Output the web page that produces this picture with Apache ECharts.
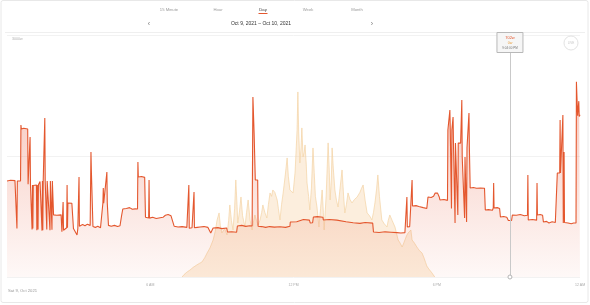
<!DOCTYPE html>
<html><head><meta charset="utf-8">
<script src="https://cdn.jsdelivr.net/npm/echarts@6/dist/echarts.min.js"></script>
<style>html,body{margin:0;padding:0;background:#fff}#c{width:590px;height:305px}</style>
</head><body><div id="c"></div>
<script>
// ---- data (minute of day, watts) ----
const tabs = ['15 Minute','Hour','Day','Week','Month'];
const dateRange = 'Oct 9, 2021 – Oct 10, 2021';
const yTopLabel = '3000w';
const dayLabel = 'Sat 9, Oct 2021';
const xTickValues = [360, 720, 1080, 1440];
const xTickLabels = ['6 AM', '12 PM', '6 PM', '12 AM'];
const cursorMinute = 1264;
const cursorTimeText = '9:04:00 PM';

const consumption = [[0,1190],[4,1175],[9,1200],[14,1185],[20,1195],[24,1190],[25,600],[26,1190],[30,1180],[34,1190],[35,1885],[36,1835],[42,1845],[47,1830],[52,1835],[53,1150],[57,1145],[58,1736],[59,1140],[62,1140],[63,590],[64,1140],[65,600],[66,1135],[70,1145],[74,1140],[75,580],[76,1140],[78,590],[79,1145],[83,1185],[87,1195],[88,575],[89,1190],[90,580],[91,1195],[94,1190],[95,1972],[96,1190],[100,590],[101,1190],[104,1185],[108,580],[109,1190],[113,585],[114,1190],[116,1185],[117,770],[125,765],[130,775],[136,770],[138,560],[140,570],[141,930],[142,580],[146,600],[150,610],[151,1141],[152,610],[153,918],[158,925],[163,915],[166,918],[167,600],[172,590],[176,521],[178,600],[180,610],[181,1240],[182,630],[190,650],[196,635],[202,655],[209,640],[210,640],[211,1550],[212,1320],[215,1310],[216,625],[222,615],[228,630],[235,610],[240,620],[241,918],[242,1104],[243,915],[248,925],[251,1302],[252,918],[254,915],[255,640],[262,630],[270,640],[278,625],[284,635],[288,760],[291,843],[300,850],[308,860],[315,840],[322,845],[328,843],[329,1426],[330,1240],[338,1245],[346,1235],[347,1240],[348,740],[352,732],[356,732],[357,1203],[358,730],[366,740],[375,725],[385,735],[392,740],[398,765],[405,775],[412,760],[417,745],[420,630],[430,620],[440,625],[452,615],[456,610],[457,1141],[458,605],[465,610],[469,605],[470,1054],[471,610],[478,615],[485,620],[495,625],[505,615],[510,615],[512,546],[517,550],[518,608],[530,612],[540,600],[552,608],[554,558],[565,560],[577,555],[579,632],[590,640],[600,628],[610,635],[616,632],[617,630],[618,2232],[620,2230],[621,1786],[623,1786],[624,1203],[630,1203],[631,630],[640,625],[650,615],[660,625],[672,618],[686,622],[700,615],[711,630],[712,682],[728,685],[730,707],[745,712],[760,705],[762,670],[768,672],[770,744],[780,748],[794,740],[795,707],[810,712],[829,705],[830,682],[852,685],[855,670],[870,672],[887,665],[900,675],[919,668],[921,558],[935,552],[950,560],[965,555],[980,550],[990,545],[1000,550],[1004,548],[1005,992],[1006,620],[1012,625],[1016,620],[1017,622],[1018,1203],[1019,880],[1028,885],[1035,875],[1037,856],[1046,860],[1055,850],[1058,992],[1066,985],[1072,1000],[1076,1042],[1082,1040],[1086,995],[1088,955],[1098,960],[1107,950],[1108,1823],[1111,1820],[1113,2071],[1114,1823],[1116,1823],[1117,850],[1118,1823],[1120,1823],[1121,1984],[1122,1662],[1125,1662],[1126,670],[1127,1662],[1132,1662],[1133,769],[1134,1662],[1140,1660],[1142,1662],[1143,2195],[1144,1488],[1149,1488],[1150,732],[1151,1488],[1154,1488],[1155,682],[1156,1600],[1160,1600],[1161,2034],[1162,1600],[1163,1600],[1164,1104],[1172,1110],[1180,1100],[1190,1104],[1200,1100],[1202,831],[1210,835],[1220,828],[1222,856],[1223,1166],[1224,856],[1232,860],[1238,850],[1240,744],[1248,750],[1256,740],[1260,700],[1264,702],[1268,700],[1270,769],[1280,765],[1290,775],[1300,760],[1308,765],[1309,1265],[1310,707],[1320,712],[1331,705],[1332,1166],[1333,769],[1340,775],[1346,765],[1348,682],[1356,690],[1362,670],[1370,685],[1378,675],[1382,680],[1383,1290],[1389,1290],[1390,1947],[1391,1290],[1396,1290],[1397,2009],[1398,670],[1399,680],[1400,1550],[1401,675],[1410,670],[1418,660],[1424,670],[1428,665],[1430,670],[1431,2420],[1433,2400],[1434,2000],[1436,2000],[1437,2180],[1438,1990],[1440,2010]];

const solar = [[440,0],[445,30],[452,60],[460,87],[468,120],[477,149],[484,170],[490,186],[497,240],[503,298],[510,360],[518,459],[523,560],[528,707],[533,794],[536,640],[540,546],[547,600],[553,521],[557,700],[560,893],[564,700],[568,583],[572,850],[575,1203],[578,900],[580,670],[584,800],[588,992],[592,760],[598,620],[602,800],[606,955],[611,700],[616,583],[620,700],[623,769],[627,700],[631,645],[636,707],[640,800],[643,893],[648,800],[653,732],[657,900],[661,1042],[665,1000],[668,1079],[673,1050],[679,955],[682,850],[686,707],[690,900],[694,1042],[699,1250],[704,1476],[707,1250],[711,1079],[715,1100],[719,1042],[724,1300],[729,1823],[731,2294],[733,1800],[736,1414],[739,1600],[741,1848],[744,1488],[747,1550],[749,1637],[752,1400],[754,1166],[758,1000],[761,831],[765,1100],[769,1600],[772,1300],[775,1000],[779,868],[784,620],[788,850],[792,1079],[795,800],[797,583],[802,1000],[807,1662],[810,1300],[812,955],[815,1200],[817,1600],[820,1350],[824,1079],[828,950],[832,868],[837,1100],[842,1327],[846,1000],[849,794],[853,900],[857,1042],[862,960],[867,918],[873,960],[880,992],[887,1050],[891,1100],[895,1141],[900,950],[905,794],[911,760],[917,707],[921,800],[925,930],[929,1100],[932,1265],[936,1000],[942,707],[948,660],[955,620],[958,700],[962,769],[968,700],[975,620],[979,540],[983,459],[988,420],[993,372],[997,420],[1000,459],[1004,510],[1008,546],[1012,560],[1015,583],[1018,459],[1024,420],[1030,372],[1036,330],[1043,298],[1048,236],[1052,180],[1055,136],[1060,100],[1068,50],[1075,0]];

// ---- chart ----
const FONT = 'Liberation Sans, Arial, sans-serif';
const chart = echarts.init(document.getElementById('c'), null, {renderer:'canvas'});
function valueAt(arr, m){ let v = 0; for (const p of arr){ if (p[0] <= m) v = p[1]; } return v; }
const consAtCursor = valueAt(consumption, cursorMinute);
const solarAtCursor = valueAt(solar, cursorMinute);

const option = {
  animation: false,
  backgroundColor: '#fff',
  grid: {left: 7, right: 10, top: 35, bottom: 28},
  xAxis: {
    type: 'value', min: 0, max: 1440, interval: 360,
    axisLine: {show: false}, axisTick: {show: false}, splitLine: {show: false},
    axisLabel: {show: true, showMinLabel: false, fontSize: 3.5, color: '#aaa', fontFamily: FONT, margin: 6,
      formatter: v => { const i = xTickValues.indexOf(v); return i >= 0 ? xTickLabels[i] : ''; }}
  },
  yAxis: {
    type: 'value', min: 0, max: 3000, interval: 1500,
    axisLine: {show: false}, axisTick: {show: false}, axisLabel: {show: false},
    splitLine: {show: true, lineStyle: {color: '#f2f2f2', width: 1}}
  },
  series: [
    {
      name: 'Solar', type: 'line', data: solar, showSymbol: false, z: 1,
      lineStyle: {color: '#f3d2a4', width: 0.7},
      areaStyle: {color: 'rgba(247,208,158,0.5)'}
    },
    {
      name: 'Consumption', type: 'line', data: consumption, showSymbol: false, z: 2,
      lineStyle: {color: '#e4572e', width: 1.1},
      areaStyle: {color: {type: 'linear', x: 0, y: 35, x2: 0, y2: 277, global: true,
        colorStops: [{offset: 0, color: 'rgba(232,95,65,0.6)'}, {offset: 1, color: 'rgba(232,95,65,0.06)'}]}},
      markLine: {silent: true, symbol: ['none', 'none'], label: {show: false},
        lineStyle: {color: '#c9c9c9', width: 1, type: 'solid'},
        data: [{xAxis: cursorMinute}]},
      markPoint: {silent: true, symbol: 'circle', symbolSize: 4, label: {show: false},
        itemStyle: {color: '#fff', borderColor: '#b5b5b5', borderWidth: 1},
        data: [{coord: [cursorMinute, 0]}]}
    }
  ]
};
chart.setOption(option);

const cx = chart.convertToPixel({gridIndex: 0}, [cursorMinute, 0])[0];
const tabX = [169, 218, 263, 308, 357];
const g = [
  {type: 'rect', shape: {x: 1, y: 0.5, width: 587, height: 302, r: 2}, style: {fill: 'none', stroke: '#e8e8e8', lineWidth: 1}, z: 0},
  {type: 'line', shape: {x1: 5, y1: 32.5, x2: 585, y2: 32.5}, style: {stroke: '#efefef', lineWidth: 1}}
];
tabs.forEach((t, i) => {
  g.push({type: 'text', x: tabX[i], y: 10, style: {text: t, fontSize: 4.2, fontFamily: FONT,
    fill: i === 2 ? '#333' : '#9a9a9a', align: 'center', verticalAlign: 'middle'}});
});
g.push({type: 'line', shape: {x1: 258.5, y1: 13.5, x2: 267.5, y2: 13.5}, style: {stroke: '#e4572e', lineWidth: 1}});
g.push({type: 'text', x: 149, y: 24, style: {text: '‹', fontSize: 7, fontFamily: FONT, fill: '#777', align: 'center', verticalAlign: 'middle'}});
g.push({type: 'text', x: 372, y: 24, style: {text: '›', fontSize: 7, fontFamily: FONT, fill: '#777', align: 'center', verticalAlign: 'middle'}});
g.push({type: 'text', x: 261, y: 24, style: {text: dateRange, fontSize: 5, fontFamily: FONT, fill: '#333', align: 'center', verticalAlign: 'middle'}});
g.push({type: 'text', x: 12, y: 39, style: {text: yTopLabel, fontSize: 3.6, fontFamily: FONT, fill: '#b0b0b0', align: 'left', verticalAlign: 'middle'}});
g.push({type: 'text', x: 8, y: 291, style: {text: dayLabel, fontSize: 4.2, fontFamily: FONT, fill: '#999', align: 'left', verticalAlign: 'middle'}});
// live circle
g.push({type: 'circle', shape: {cx: 571, cy: 43, r: 7}, style: {fill: '#fff', stroke: '#e3e3e3', lineWidth: 1}});
g.push({type: 'text', x: 571, y: 43, style: {text: 'LIVE', fontSize: 3, fontFamily: FONT, fill: '#c8c8c8', align: 'center', verticalAlign: 'middle'}});
// cursor tooltip
g.push({type: 'rect', z: 100, shape: {x: cx - 13, y: 32.5, width: 26, height: 20}, style: {fill: '#f6f6f6', stroke: '#b8b8b8', lineWidth: 1}});
g.push({type: 'text', z: 101, x: cx, y: 37.5, style: {text: consAtCursor + 'w', fontSize: 4, fontFamily: FONT, fill: '#e4572e', align: 'center', verticalAlign: 'middle'}});
g.push({type: 'text', z: 101, x: cx, y: 43, style: {text: solarAtCursor + 'w', fontSize: 3.6, fontFamily: FONT, fill: '#e8a040', align: 'center', verticalAlign: 'middle'}});
g.push({type: 'text', z: 101, x: cx, y: 48.5, style: {text: cursorTimeText, fontSize: 3, fontFamily: FONT, fill: '#777', align: 'center', verticalAlign: 'middle'}});
chart.setOption({graphic: {elements: g}});
</script></body></html>
